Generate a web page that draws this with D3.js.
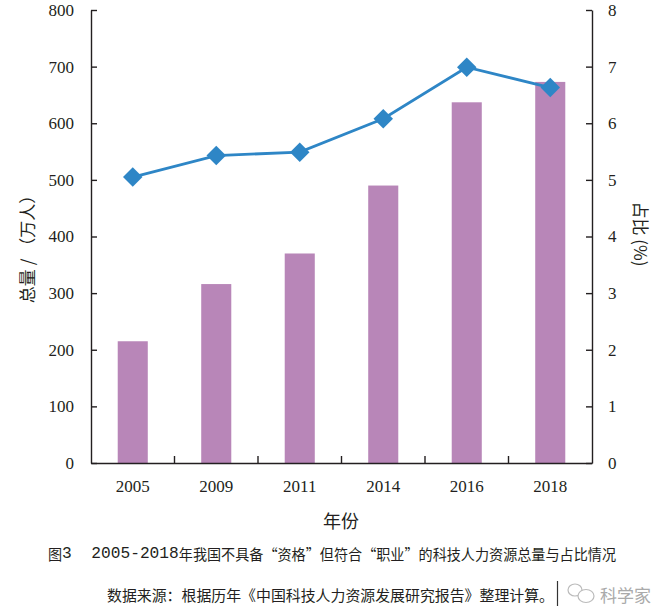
<!DOCTYPE html>
<html><head><meta charset="utf-8">
<script src="https://cdn.jsdelivr.net/npm/d3@7"></script>
<style>body{margin:0;background:#fff}svg{display:block}</style>
</head><body>
<script>
const years = ["2005","2009","2011","2014","2016","2018"];
const totals = [215, 316, 370, 490, 637, 673];
const shares = [5.05, 5.43, 5.49, 6.08, 6.99, 6.63];
const leftTicks = [0,100,200,300,400,500,600,700,800];
const rightTicks = [0,1,2,3,4,5,6,7,8];

const W = 670, H = 606;
const m = {left: 91, right: 592, top: 10, bottom: 463};
const svg = d3.select("body").append("svg").attr("width", W).attr("height", H);
svg.append("rect").attr("width", W).attr("height", H).attr("fill", "#fff");

const x = d3.scaleBand().domain(years).range([m.left, m.right]).paddingInner(0.64).paddingOuter(0.32);
const xb = d3.scaleBand().domain(years).range([m.left, m.right]);
const yL = d3.scaleLinear().domain([0, 800]).range([m.bottom, m.top]);
const yR = d3.scaleLinear().domain([0, 8]).range([m.bottom, m.top]);
const axisColor = "#231f20";
const serif = "'Liberation Serif','Times New Roman',serif";
const cjk = "'Noto Sans CJK SC','Noto Sans CJK JP',sans-serif";
const mono = "'Liberation Mono','DejaVu Sans Mono',monospace";

// bars
svg.append("g").selectAll("rect").data(years).join("rect")
  .attr("x", d => x(d)).attr("width", x.bandwidth())
  .attr("y", (d,i) => yL(totals[i])).attr("height", (d,i) => yL(0) - yL(totals[i]))
  .attr("fill", "#b886b8");

// axes
const gl = svg.append("g").attr("transform", `translate(${m.left},0)`)
  .call(d3.axisLeft(yL).tickValues(leftTicks).tickSizeInner(-6).tickSizeOuter(0).tickPadding(17));
const gr = svg.append("g").attr("transform", `translate(${m.right},0)`)
  .call(d3.axisRight(yR).tickValues(rightTicks).tickSizeInner(-6).tickSizeOuter(0).tickPadding(16));
const gx = svg.append("g").attr("transform", `translate(0,${m.bottom})`)
  .call(d3.axisBottom(xb).tickSize(0).tickPadding(17));
[gl, gr, gx].forEach(g => {
  g.selectAll("path,line").attr("stroke", axisColor).attr("stroke-width", 1.4);
  g.selectAll("text").attr("font-family", serif).attr("font-size", 17).attr("fill", axisColor);
});
// x ticks at band boundaries
svg.append("g").selectAll("line").data(years.slice(1)).join("line")
  .attr("x1", d => xb(d)).attr("x2", d => xb(d))
  .attr("y1", m.bottom).attr("y2", m.bottom - 7)
  .attr("stroke", axisColor).attr("stroke-width", 1.4);

// line + markers
const line = d3.line().x((d,i) => xb(years[i]) + xb.bandwidth()/2).y(d => yR(d));
svg.append("path").datum(shares).attr("d", line)
  .attr("fill", "none").attr("stroke", "#2e86c6").attr("stroke-width", 2.8);
svg.append("g").selectAll("path").data(shares).join("path")
  .attr("d", d3.symbol(d3.symbolSquare, 190))
  .attr("transform", (d,i) => `translate(${xb(years[i]) + xb.bandwidth()/2},${yR(d)}) rotate(45)`)
  .attr("fill", "#2e86c6");

// axis titles
svg.append("text").attr("transform", "translate(26,245) rotate(-90)")
  .attr("text-anchor", "middle").attr("dominant-baseline", "central")
  .attr("font-family", cjk).attr("font-size", 17).attr("fill", axisColor)
  .text("总量 / （万人）");
svg.append("text").attr("transform", "translate(641,234) rotate(90)")
  .attr("text-anchor", "middle").attr("dominant-baseline", "central")
  .attr("font-family", cjk).attr("font-size", 17).attr("fill", axisColor)
  .text("占比 (%)");
svg.append("text").attr("x", 341).attr("y", 520)
  .attr("text-anchor", "middle").attr("dominant-baseline", "central")
  .attr("font-family", cjk).attr("font-size", 18).attr("fill", axisColor)
  .text("年份");

// caption (single text element with font runs)
const cap = svg.append("text").attr("x", 48).attr("y", 553).attr("dominant-baseline", "central")
  .attr("font-size", 14.8).attr("fill", axisColor).style("white-space", "pre")
  .attr("textLength", 568).attr("lengthAdjust", "spacingAndGlyphs");
cap.append("tspan").attr("font-family", cjk).text("图");
cap.append("tspan").attr("font-family", mono).attr("font-size", 17).text("3  2005-2018");
cap.append("tspan").attr("font-family", cjk).text("年我国不具备“资格”但符合“职业”的科技人力资源总量与占比情况");

svg.append("text").attr("x", 107).attr("y", 594).attr("dominant-baseline", "central")
  .attr("font-family", cjk).attr("font-size", 14.8).attr("fill", axisColor)
  .attr("textLength", 447).attr("lengthAdjust", "spacingAndGlyphs")
  .text("数据来源：根据历年《中国科技人力资源发展研究报告》整理计算。");

// watermark
svg.append("line").attr("x1", 557.5).attr("x2", 557.5).attr("y1", 581).attr("y2", 606)
  .attr("stroke", "#333").attr("stroke-width", 1.2);
const wm = svg.append("g").attr("fill", "none").attr("stroke", "#bbb").attr("stroke-width", 1.2);
wm.append("ellipse").attr("cx", 575).attr("cy", 590).attr("rx", 7).attr("ry", 6);
wm.append("ellipse").attr("cx", 586).attr("cy", 596).attr("rx", 8).attr("ry", 6.5).attr("fill", "#fff");
svg.append("text").attr("x", 600).attr("y", 594).attr("dominant-baseline", "central")
  .attr("font-family", cjk).attr("font-size", 17).attr("fill", "#aaa")
  .text("科学家");
</script>
</body></html>
